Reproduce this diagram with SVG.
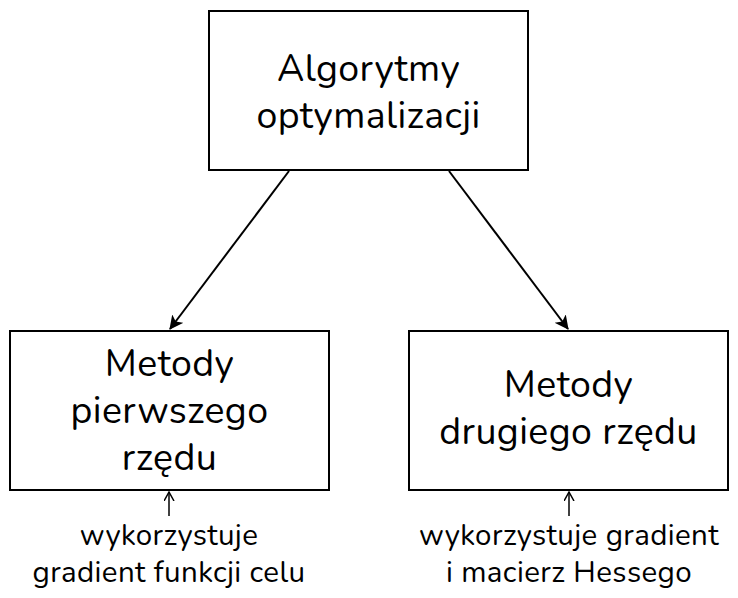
<svg xmlns="http://www.w3.org/2000/svg" width="738" height="598" viewBox="0 0 738 598">
<style>
.box{fill:#fff;stroke:#000;stroke-width:2}
.t{font-family:"Nunito","Lato","Open Sans",sans-serif;font-size:37.5px;letter-spacing:0.4px;fill:#000;text-anchor:middle}
.s{font-family:"Nunito","Lato","Open Sans",sans-serif;font-size:29.5px;letter-spacing:0.4px;fill:#000;text-anchor:middle}
.c{stroke:#000;stroke-width:2;fill:none}
.o{stroke:#000;stroke-width:1.5;fill:none}
</style>
<defs>
<marker id="ah" markerWidth="16" markerHeight="16" refX="13" refY="7" orient="auto" markerUnits="userSpaceOnUse">
<path d="M0,0 L14,7 L0,14 L3.5,7 Z" fill="#000"/>
</marker>
<marker id="oh" markerWidth="12" markerHeight="12" refX="9" refY="5" orient="auto" markerUnits="userSpaceOnUse">
<path d="M0,0 L9,5 L0,10" fill="none" stroke="#000" stroke-width="1.5"/>
</marker>
</defs>
<g id="connectors">
<line class="c" x1="289" y1="171" x2="170" y2="329" marker-end="url(#ah)"/>
<line class="c" x1="449" y1="171" x2="568" y2="329" marker-end="url(#ah)"/>
<line class="o" x1="169" y1="516" x2="169" y2="492" marker-end="url(#oh)"/>
<line class="o" x1="569" y1="516" x2="569" y2="492" marker-end="url(#oh)"/>
</g>
<g id="node-top">
<rect class="box" x="209" y="11" width="319" height="159"/>
<text class="t"><tspan x="368.5" y="81">Algorytmy</tspan><tspan x="368.5" y="128">optymalizacji</tspan></text>
</g>
<g id="node-first">
<rect class="box" x="10" y="331" width="319" height="159"/>
<text class="t"><tspan x="169.5" y="376">Metody</tspan><tspan x="169.5" y="423">pierwszego</tspan><tspan x="169.5" y="470">rzędu</tspan></text>
</g>
<g id="node-second">
<rect class="box" x="409" y="331" width="319" height="159"/>
<text class="t"><tspan x="568.5" y="397">Metody</tspan><tspan x="568.5" y="444">drugiego rzędu</tspan></text>
</g>
<g id="label-first">
<text class="s"><tspan x="169" y="545">wykorzystuje</tspan><tspan x="169" y="582">gradient funkcji celu</tspan></text>
</g>
<g id="label-second">
<text class="s"><tspan x="569" y="545">wykorzystuje gradient</tspan><tspan x="569" y="582">i macierz Hessego</tspan></text>
</g>
</svg>
